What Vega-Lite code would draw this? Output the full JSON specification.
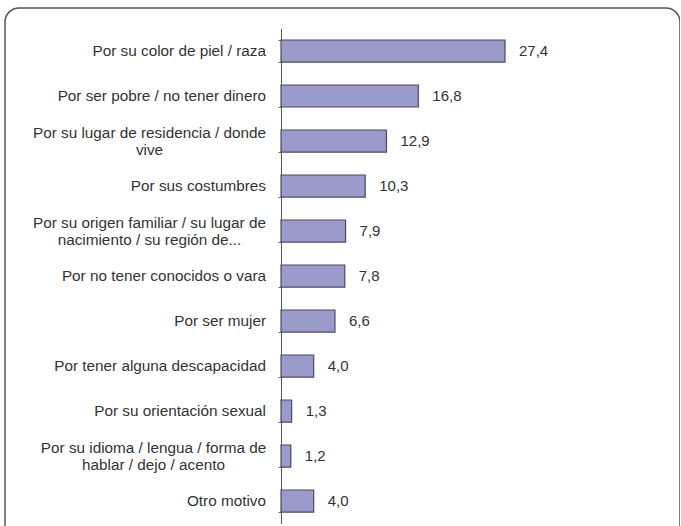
{
  "$schema": "https://vega.github.io/schema/vega-lite/v6.json",
  "width": 675,
  "height": 540,
  "padding": {"left": 5, "top": 8, "right": 0, "bottom": 0},
  "autosize": {"type": "none"},
  "config": {
    "view": {"stroke": "#555555", "strokeWidth": 1.5, "cornerRadius": 14},
    "font": "Liberation Sans"
  },
  "data": {
    "values": [
      {"motivo": "Por su color de piel / raza", "lineas": 1, "valor": 27.4, "texto": "27,4"},
      {"motivo": "Por ser pobre / no tener dinero", "lineas": 1, "valor": 16.8, "texto": "16,8"},
      {"motivo": "Por su lugar de residencia / donde|vive", "lineas": 2, "valor": 12.9, "texto": "12,9"},
      {"motivo": "Por sus costumbres", "lineas": 1, "valor": 10.3, "texto": "10,3"},
      {"motivo": "Por su origen familiar / su lugar de|nacimiento / su región de...", "lineas": 2, "valor": 7.9, "texto": "7,9"},
      {"motivo": "Por no tener conocidos o vara", "lineas": 1, "valor": 7.8, "texto": "7,8"},
      {"motivo": "Por ser mujer", "lineas": 1, "valor": 6.6, "texto": "6,6"},
      {"motivo": "Por tener alguna descapacidad", "lineas": 1, "valor": 4.0, "texto": "4,0"},
      {"motivo": "Por su orientación sexual", "lineas": 1, "valor": 1.3, "texto": "1,3"},
      {"motivo": "Por su idioma / lengua / forma de|hablar / dejo / acento", "lineas": 2, "valor": 1.2, "texto": "1,2"},
      {"motivo": "Otro motivo", "lineas": 1, "valor": 4.0, "texto": "4,0"}
    ]
  },
  "encoding": {
    "y": {
      "field": "motivo",
      "type": "nominal",
      "sort": null,
      "scale": {"range": [20.5, 515.5], "paddingInner": 0.51, "paddingOuter": 0.255},
      "axis": {
        "title": null,
        "offset": -276,
        "tickBand": "extent",
        "tickSize": 3,
        "tickColor": "#666666",
        "domainColor": "#555555",
        "labels": false
      }
    },
    "x": {
      "field": "valor",
      "type": "quantitative",
      "scale": {"domain": [0, 40], "range": [276, 603]},
      "axis": null
    }
  },
  "layer": [
    {
      "mark": {"type": "bar", "color": "#9a9acb", "stroke": "#4a4a60", "strokeWidth": 1.2}
    },
    {
      "mark": {"type": "text", "align": "left", "baseline": "middle", "dx": 14, "fontSize": 15, "color": "#333333"},
      "encoding": {"text": {"field": "texto"}}
    },
    {
      "transform": [{"filter": "datum.lineas == 1"}],
      "mark": {"type": "text", "align": "right", "baseline": "middle", "dx": -15, "fontSize": 15.3, "color": "#333333"},
      "encoding": {"x": {"datum": 0, "type": "quantitative"}, "text": {"field": "motivo"}}
    },
    {
      "transform": [{"filter": "indexof(datum.motivo, 'residencia') >= 0 || indexof(datum.motivo, 'origen') >= 0"}],
      "mark": {"type": "text", "align": "center", "baseline": "middle", "dx": -131.5, "dy": -8.5, "lineBreak": "|", "lineHeight": 17, "fontSize": 15.3, "color": "#333333"},
      "encoding": {"x": {"datum": 0, "type": "quantitative"}, "text": {"field": "motivo"}}
    },
    {
      "transform": [{"filter": "indexof(datum.motivo, 'idioma') >= 0"}],
      "mark": {"type": "text", "align": "center", "baseline": "middle", "dx": -127.5, "dy": -8.5, "lineBreak": "|", "lineHeight": 17, "fontSize": 15.3, "color": "#333333"},
      "encoding": {"x": {"datum": 0, "type": "quantitative"}, "text": {"field": "motivo"}}
    }
  ]
}
